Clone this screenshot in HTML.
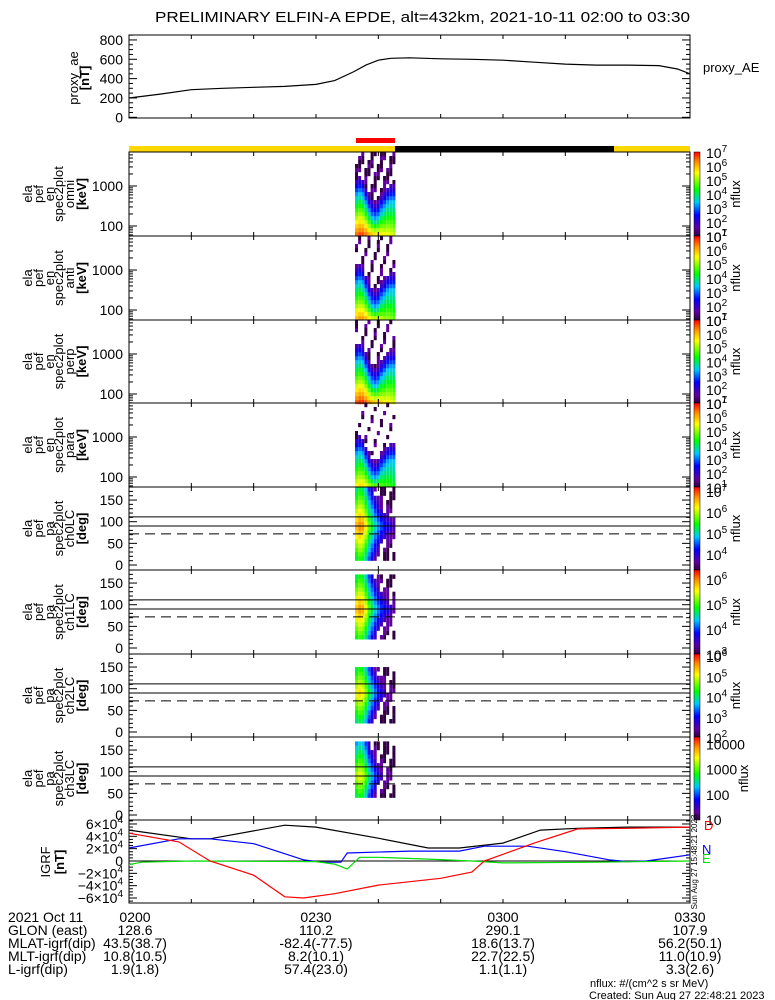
<!DOCTYPE html>
<html><head><meta charset="utf-8">
<style>
html,body{margin:0;padding:0;background:#fff;}
svg{display:block;font-family:"Liberation Sans",sans-serif;}
</style></head>
<body>
<svg id="chart" width="775" height="1000" viewBox="0 0 775 1000" xmlns="http://www.w3.org/2000/svg">
<defs>
<linearGradient id="cmap" x1="0" y1="1" x2="0" y2="0">
<stop offset="0" stop-color="#300040"/><stop offset="0.1" stop-color="#6000a0"/>
<stop offset="0.25" stop-color="#0000ff"/><stop offset="0.4" stop-color="#00c8ff"/>
<stop offset="0.55" stop-color="#00ff00"/><stop offset="0.75" stop-color="#ffff00"/>
<stop offset="0.88" stop-color="#ff9000"/><stop offset="1" stop-color="#ff0000"/>
</linearGradient>
</defs>
<text x="155" y="22" font-size="15" textLength="535" lengthAdjust="spacingAndGlyphs">PRELIMINARY ELFIN-A EPDE, alt=432km, 2021-10-11 02:00 to 03:30</text>
<g id="g"></g>
</svg>
<script>
// ---- data ----
const aeTimes=[0,5,10,15,20,25,30,33,36,38,40,42,45,50,55,60,65,70,75,80,85,88,90];
const aeValues=[200,240,285,300,310,320,340,380,470,540,590,610,615,605,600,590,570,550,540,540,535,500,450];
const igrfTimesD=[0,8,13,20,25,28,33,40,50,55,57,65,72,80,90];
const igrfD=[45,31,0,-23,-58,-60,-53,-39,-28,-18,0,29,52,53,55];
const igrfTimesN=[0,8,13,20,28,31,34,35,45,53,57,64,70,77,80,83,90];
const igrfN=[21,36,36,28,2,-2,-2,13,16,16,24,24,15,2,-1,0,10];
const igrfTimesE=[0,2,10,30,33,35,37,40,48,55,60,75,90];
const igrfE=[-6,-2,0,-1,-5,-13,6,6,3,0,-3,-2,0];
const igrfTimesT=[0,10,13,25,30,40,48,53,60,66,72,80,90];
const igrfT=[50,36,36,58,55,37,21,21,29,50,53,55,55];
// spectrogram columns (minutes after 02:00)
const specTimes=[36.5,37,37.5,38,38.5,39,39.5,40,40.5,41,41.5,42,42.5];
const specLowFlux=[6.6,6.8,6.8,6.6,6.3,6.1,6.0,6.0,5.8,5.6,5.6,5.5,5.3];
const specCutoffLogE=[2.75,2.8,2.75,2.55,2.35,2.2,2.15,2.2,2.35,2.45,2.55,2.6,2.6];
const panelFluxOffset=[0,-0.5,0.1,-1.0];
const panelCutOffset=[0,-0.1,0.05,-0.2];
const paCenter=[0.85,0.9,0.88,0.78,0.65,0.55,0.45,0.38,0.32,0.27,0.24,0.2,0.16];
const paPanelOffset=[0,-0.02,-0.1,-0.15];
const paRangeLo=[15,20,25,45];
const paRangeHi=[175,170,150,170];
const lossCone=[111,111,111,111];
const antiLossCone=[72,72,72,72];
const cbLo=[1,1,1,1,3.25,3.0,2.0,1.0];
const cbHi=[7,7,7,7,7.2,6.35,6.1,4.3];
const cbExp=[[1,2,3,4,5,6,7],[1,2,3,4,5,6,7],[1,2,3,4,5,6,7],[1,2,3,4,5,6,7],[4,5,6,7],[3,4,5,6],[2,3,4,5,6],[1,2,3,4]];
const footRows=["2021 Oct 11","GLON (east)","MLAT-igrf(dip)","MLT-igrf(dip)","L-igrf(dip)"];
const footTimes=[0,30,60,90];
const footVals=[["0200","0230","0300","0330"],["128.6","110.2","290.1","107.9"],["43.5(38.7)","-82.4(-77.5)","18.6(13.7)","56.2(50.1)"],["10.8(10.5)","8.2(10.1)","22.7(22.5)","11.0(10.9)"],["1.9(1.8)","57.4(23.0)","1.1(1.1)","3.3(2.6)"]];
const panelNames=[["ela","pef","en","spec2plot","omni","[keV]"],["ela","pef","en","spec2plot","anti","[keV]"],["ela","pef","en","spec2plot","perp","[keV]"],["ela","pef","en","spec2plot","para","[keV]"],["ela","pef","pa","spec2plot","ch0LC","[deg]"],["ela","pef","pa","spec2plot","ch1LC","[deg]"],["ela","pef","pa","spec2plot","ch2LC","[deg]"],["ela","pef","pa","spec2plot","ch3LC","[deg]"]];

// ---- helpers ----
const NS="http://www.w3.org/2000/svg";
const G=document.getElementById('g');
function mk(tag,attrs,parent){const e=document.createElementNS(NS,tag);for(const k in attrs)e.setAttribute(k,attrs[k]);(parent||G).appendChild(e);return e;}
const X0=129,X1=690;
function xs(t){return X0+t*(X1-X0)/90;}
const stops=[[0,48,0,64],[0.1,96,0,160],[0.25,0,0,255],[0.4,0,200,255],[0.55,0,255,0],[0.75,255,255,0],[0.88,255,144,0],[1,255,0,0]];
function cmap(t){t=Math.max(0,Math.min(1,t));for(let i=1;i<stops.length;i++){if(t<=stops[i][0]){const a=stops[i-1],b=stops[i],f=(t-a[0])/(b[0]-a[0]);return`rgb(${Math.round(a[1]+f*(b[1]-a[1]))},${Math.round(a[2]+f*(b[2]-a[2]))},${Math.round(a[3]+f*(b[3]-a[3]))})`;}}return'rgb(255,0,0)';}
function line(x1,y1,x2,y2,name,extra){const l=mk('line',Object.assign({x1,y1,x2,y2,stroke:'#000','stroke-width':1},extra||{}));return l;}
function txt(x,y,s,size,name,extra){const t=mk('text',Object.assign({x,y,'font-size':size},extra||{}));t.textContent=s;return t;}
function frame(top,bot,name){const r=mk('rect',{x:X0,y:top,width:X1-X0,height:bot-top,fill:'none',stroke:'#000','stroke-width':1});
 for(let t=10;t<90;t+=10){line(xs(t),top,xs(t),top+4,'x-tick');line(xs(t),bot,xs(t),bot-4,'x-tick');}}
function yTick(y,len,name){line(X0,y,X0+len,y,name);line(X1,y,X1-len,y,name);}
function leftLabel(lines,cy,xBase,name){const g=mk('g',{});
 lines.forEach((s,i)=>{const x=xBase[i];const t=mk('text',{x:0,y:0,'font-size':13,'text-anchor':'middle',transform:`translate(${x},${cy}) rotate(-90)`,'font-weight':s.startsWith('[')?'bold':'normal'},g);t.textContent=s;});}
function polyline(ts,vs,yf,color,name){const pts=ts.map((t,i)=>xs(t).toFixed(1)+','+yf(vs[i]).toFixed(1)).join(' ');const p=mk('polyline',{points:pts,fill:'none',stroke:color,'stroke-width':1.2});}

// ---- proxy AE panel ----
const aeTop=35,aeBot=118;
function yAE(v){return 117.3-v*0.0967;}
frame(aeTop,aeBot,'proxy-ae-frame');
for(let v=0;v<=850;v+=50){const y=yAE(v);if(y<aeTop||y>aeBot)continue;yTick(y,v%200===0?8:4,'proxy-ae-y-tick');}
[0,200,400,600,800].forEach(v=>txt(123,yAE(v)+5,String(v),14,'proxy-ae-tick-label',{'text-anchor':'end'}));
polyline(aeTimes,aeValues,yAE,'#000','proxy-ae-line');
leftLabel(['proxy_ae','[nT]'],78,[78,89],'proxy-ae-axis-label');
txt(703,72,'proxy_AE',13,'proxy-ae-legend');

// ---- status bars ----
function bar(x1,x2,y,h,c,name){const r=mk('rect',{x:x1,y,width:x2-x1,height:h,fill:c});}
bar(356,395,138,5,'#ff0000','science-zone-bar');
bar(X0,X1,146,6,'#ffd700','sunlight-bar');
bar(395,614,146,6,'#000','eclipse-bar');

// ---- spectrogram panels ----
const tops=[152,236,320,403,487,570,654,737,820];
const colW=3;
function hash(a,b,c){return ((a*73+b*151+c*37)%17);}
for(let p=0;p<8;p++){
 const top=tops[p],bot=tops[p+1];
 const cb=mk('rect',{x:694,y:top,width:6,height:bot-top,fill:'url(#cmap)',stroke:'#000','stroke-width':0.5});
 
 const lo=cbLo[p],hi=cbHi[p];
 cbExp[p].forEach(e=>{const y=top+(hi-e)/(hi-lo)*(bot-top);
  if(p===7){txt(706,y+5,String(Math.pow(10,e)),14,'colorbar-label');}
  else{const t=txt(706,y+6,'10',14,'colorbar-label');const s=mk('tspan',{dy:-6,'font-size':10},t);s.textContent=String(e);}});
 const nl=mk('text',{x:0,y:0,'font-size':13,'text-anchor':'middle',transform:`translate(${p===7?748:740},${(top+bot)/2}) rotate(-90)`});nl.textContent='nflux';
 
 leftLabel(panelNames[p],(top+bot)/2,[32,43,54,63,74,86],'panel-'+(p+1)+'-axis-label');
 if(p<4){
  const eTop=3+34/40;
  function yE(le){return top+(eTop-le)*40;}
  specTimes.forEach((t,c)=>{
   const low=specLowFlux[c]+panelFluxOffset[p],cut=specCutoffLogE[c]+panelCutOffset[p];
   for(let b=0;b<21;b++){const le=1.75+b*0.1+0.05;let lf;
    if(le<cut)lf=low-(low-3.4)*(le-1.75)/(cut-1.75);else lf=3.4-4*(le-cut);
    let col;
    if(lf>=1.6)col=cmap((lf-1)/6);
    else if(hash(c,b,p)<(p===0?9:p===3?3:5))col=(hash(b,c,p+3)<6?'#6000a0':'#300040');
    else continue;
    const r=mk('rect',{x:xs(t)-colW/2,y:yE(le+0.05),width:colW,height:4.2,fill:col});
    }
  });
  frame(top,bot,'energy-panel-'+(p+1)+'-frame');
  [100,1000].forEach(v=>{const y=yE(Math.log10(v));yTick(y,8,'energy-y-tick');txt(123,y+5,String(v),14,'energy-tick-label',{'text-anchor':'end'});});
  [60,70,80,90,200,300,400,500,600,700,800,900,2000,3000,4000,5000,6000].forEach(v=>{const y=yE(Math.log10(v));if(y>top&&y<bot)yTick(y,4,'energy-y-minor-tick');});
 } else {
  const q=p-4;
  function yP(a){return top+78-a*0.433;}
  specTimes.forEach((t,c)=>{
   for(let a=0;a<180;a+=10){const ac=a+5;if(ac<paRangeLo[q]||ac>paRangeHi[q])continue;
    const v=paCenter[c]+paPanelOffset[q]-0.4*Math.abs(ac-90)/90;
    let col;
    if(v>0.12)col=cmap(v);else if(hash(c,a/10,p)<10)col=(v>0?'#6000a0':'#300040');else continue;
    const r=mk('rect',{x:xs(t)-colW/2,y:yP(a+10),width:colW,height:4.5,fill:col});
    }
  });
  frame(top,bot,'pitch-panel-'+(q+1)+'-frame');
  line(X0,yP(lossCone[q]),X1,yP(lossCone[q]),'loss-cone-line');
  line(X0,yP(90),X1,yP(90),'ninety-degree-line');
  line(X0,yP(antiLossCone[q]),X1,yP(antiLossCone[q]),'anti-loss-cone-line',{'stroke-dasharray':'10,6'});
  for(let a=0;a<=180;a+=10){const y=yP(a);if(y<top)continue;yTick(y,a%50===0?8:4,'pa-y-tick');}
  [0,50,100,150].forEach(a=>txt(123,yP(a)+5,String(a),14,'pa-tick-label',{'text-anchor':'end'}));
 }
}

// ---- IGRF panel ----
const iTop=820,iBot=903;
function yI(v){return 861-v*0.617;}
frame(iTop,iBot,'igrf-frame');
for(let v=-65;v<=65;v+=5){const y=yI(v);if(y<=iTop||y>=iBot)continue;yTick(y,v%20===0?8:4,'igrf-y-tick');}
line(X0,yI(0),X1,yI(0),'igrf-zero-line');
[60,40,20,0,-20,-40,-60].forEach(v=>{const y=yI(v)+5;
 if(v===0){txt(123,y,'0',14,'igrf-tick-label',{'text-anchor':'end'});return;}
 const t=txt(123,y,(v<0?'\u2212':'')+Math.abs(v/10)+'\u00d710',14,'igrf-tick-label',{'text-anchor':'end'});
 const s=mk('tspan',{dy:-6,'font-size':10},t);s.textContent='4';});
polyline(igrfTimesT,igrfT,yI,'#000','igrf-total-line');
polyline(igrfTimesN,igrfN,yI,'#0000ff','igrf-north-line');
polyline(igrfTimesE,igrfE,yI,'#00dd00','igrf-east-line');
polyline(igrfTimesD,igrfD,yI,'#ff0000','igrf-down-line');
leftLabel(['IGRF','[nT]'],862,[50,64],'igrf-axis-label');
txt(704,830,'D',13,'legend-d',{fill:'#ff0000'});
txt(702,854,'N',13,'legend-n',{fill:'#0000ff'});
txt(702,863,'E',13,'legend-e',{fill:'#00dd00'});
const ts=mk('text',{x:0,y:0,'font-size':8,'text-anchor':'middle',transform:`translate(697,862) rotate(-90)`});ts.textContent='Sun Aug 27 15:48:21 2023';


// ---- footer ----
footRows.forEach((s,i)=>{const y=922+i*13;txt(8,y,s,14,'footer-row-label');
 footTimes.forEach((t,j)=>{txt(xs(t)+(j===0?6:0),y,footVals[i][j],14,'footer-value',{'text-anchor':'middle'});});});
txt(590,987,'nflux: #/(cm^2 s sr MeV)',11,'nflux-units');
txt(589,999,'Created: Sun Aug 27 22:48:21 2023',11,'created-timestamp');
</script>
</body></html>
